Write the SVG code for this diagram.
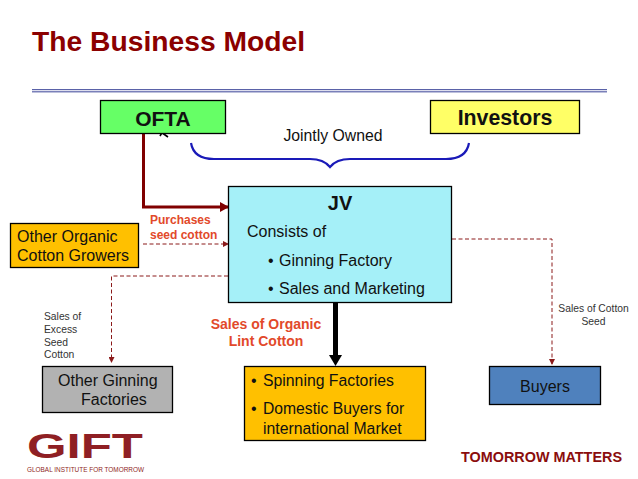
<svg xmlns="http://www.w3.org/2000/svg" width="638" height="479" viewBox="0 0 638 479">
<style>
text{font-family:"Liberation Sans",Arial,sans-serif;fill:#111}
.box{stroke:#000;stroke-width:1.3}
.dash{fill:none;stroke:#8b1a1a;stroke-width:1;stroke-dasharray:4 2.5}
.red{fill:#e2492a;font-weight:bold}
.lg{font-size:16px}
.sm{font-size:10.300px;fill:#333}
.m{text-anchor:middle}
</style>
<defs>
<marker id="ad" markerWidth="6" markerHeight="6" refX="5" refY="3" orient="auto" markerUnits="userSpaceOnUse"><path d="M0,0L6,3L0,6Z" fill="#8b1a1a"/></marker>
<marker id="ar" markerWidth="9" markerHeight="10" refX="8" refY="5" orient="auto" markerUnits="userSpaceOnUse"><path d="M0,0L9,5L0,10Z" fill="#800000"/></marker>
</defs>
<rect width="638" height="479" fill="#fff"/>
<text id="title" x="32" y="51" font-size="28.500" font-weight="bold" textLength="273" lengthAdjust="spacingAndGlyphs" style="fill:#8b0000">The Business Model</text>
<g id="rule"><rect x="32" y="89" width="575" height="1.2" fill="#5a62a8"/><rect x="32" y="91.2" width="575" height="1.2" fill="#5a62a8"/></g>
<g id="connectors">
<path d="M143.500 133V207H228" fill="none" stroke="#800000" stroke-width="3" marker-end="url(#ar)"/>
<path d="M143 244H228" class="dash" marker-end="url(#ad)"/>
<path d="M228 276H111.500V362" class="dash" marker-end="url(#ad)"/>
<path d="M452 239H552V364" class="dash" marker-end="url(#ad)"/>
<path d="M335.500 303V357" stroke="#000" stroke-width="5" fill="none"/>
<path d="M329 355H342L335.500 366Z" fill="#000"/>
<path d="M191 143C193 155 203 159 214 159H310C320 159 326 162 330 167C334 162 340 159 350 159H446C457 159 467 155 469 143" fill="none" stroke="#1a1ab8" stroke-width="2.200"/>
<path d="M158 130L168 137M160 136L164 129" stroke="#000" stroke-width="1.600" fill="none"/>
</g>
<g id="ofta"><rect class="box" x="100.500" y="100.500" width="125" height="33" fill="#66ff66"/><text x="163" y="126" font-size="21" font-weight="bold" class="m">OFTA</text></g>
<g id="investors"><rect class="box" x="430.500" y="100.500" width="149" height="33" fill="#ffff66"/><text x="505" y="125" font-size="21.300" font-weight="bold" class="m">Investors</text></g>
<text id="jointly" x="333" y="141" font-size="15.800" class="m">Jointly Owned</text>
<g id="growers"><rect class="box" x="10.500" y="223.500" width="128" height="44" fill="#ffc000"/><text x="17" y="242" class="lg">Other Organic</text><text x="17" y="261" class="lg">Cotton Growers</text></g>
<g id="purchases"><text x="150" y="224" font-size="12" class="red">Purchases</text><text x="150" y="239" font-size="12" class="red">seed cotton</text></g>
<g id="jv"><rect class="box" x="228.500" y="186.500" width="223" height="116" fill="#a5f0f8"/>
<text x="340" y="210" font-size="20" font-weight="bold" class="m">JV</text>
<text x="247" y="237" font-size="16">Consists of</text>
<text x="268" y="266" font-size="16">•</text><text x="279" y="266" font-size="16">Ginning Factory</text>
<text x="268" y="294" font-size="16">•</text><text x="279" y="294" font-size="16">Sales and Marketing</text></g>
<g id="excess"><text x="44" y="320" class="sm">Sales of</text><text x="44" y="333" class="sm">Excess</text><text x="44" y="346" class="sm">Seed</text><text x="44" y="358" class="sm">Cotton</text></g>
<g id="lint"><text x="266" y="329" font-size="14" class="red m">Sales of Organic</text><text x="266" y="346" font-size="14" class="red m">Lint Cotton</text></g>
<g id="seed"><text x="593.500" y="312" class="sm m">Sales of Cotton</text><text x="593.500" y="325" class="sm m">Seed</text></g>
<g id="ginning"><rect class="box" x="42.500" y="366.500" width="130" height="46" fill="#b2b2b2"/><text x="58" y="386" class="lg">Other Ginning</text><text x="81" y="405" class="lg">Factories</text></g>
<g id="spinning"><rect class="box" x="244.500" y="366.500" width="181" height="74" fill="#ffc000"/>
<text x="251" y="386" class="lg">•</text><text x="263" y="386" font-size="15.800">Spinning Factories</text>
<text x="251" y="414" class="lg">•</text><text x="263" y="414" font-size="15.700">Domestic Buyers for</text>
<text x="263" y="434" font-size="15.800">international Market</text></g>
<g id="buyers"><rect class="box" x="489.500" y="366.500" width="111" height="38" fill="#4f81bd"/><text x="545" y="392" font-size="16" class="m">Buyers</text></g>
<g id="gift"><text x="27" y="458" font-size="35" font-weight="bold" textLength="116" lengthAdjust="spacingAndGlyphs" style="fill:#8f1f24">GIFT</text><text x="27" y="471.500" font-size="6.800" textLength="117" lengthAdjust="spacingAndGlyphs" style="fill:#8f1f24">GLOBAL INSTITUTE FOR TOMORROW</text></g>
<text id="tm" x="461" y="462" font-size="15.500" font-weight="bold" textLength="161" lengthAdjust="spacingAndGlyphs" style="fill:#8b0d0d">TOMORROW MATTERS</text>
</svg>
